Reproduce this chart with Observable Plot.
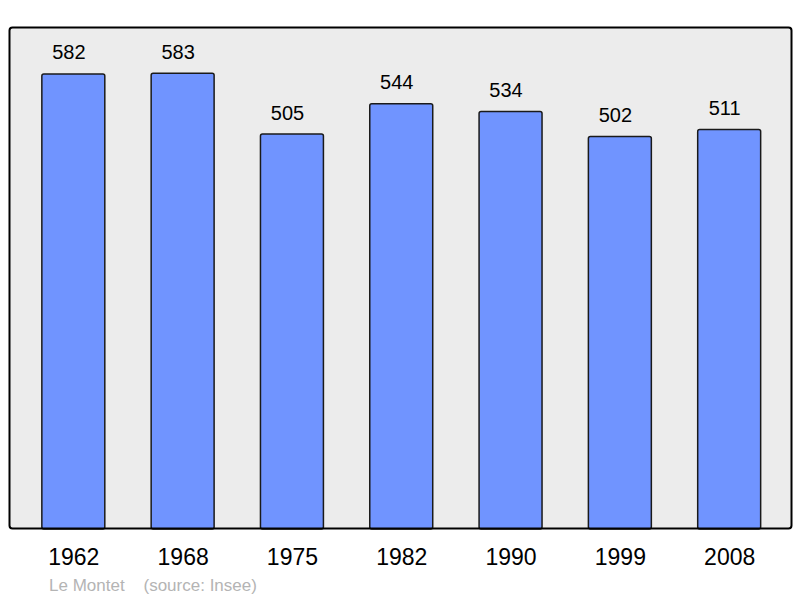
<!DOCTYPE html>
<html><head><meta charset="utf-8">
<script src="https://cdn.jsdelivr.net/npm/d3@7"></script>
<script src="https://cdn.jsdelivr.net/npm/@observablehq/plot@0.6"></script>
<style>
html,body{margin:0;padding:0;background:#fff;overflow:hidden;}
svg{display:block}
#caption{font-family:"Liberation Sans",Arial,sans-serif;font-size:17px;line-height:17px;color:#b4b4b4;margin-left:49px;white-space:pre;margin-top:1px;}
</style></head><body>
<div id="chart"></div>
<div id="caption"></div>
<script>
const years = ["1962","1968","1975","1982","1990","1999","2008"];
const population = [582,583,505,544,534,502,511];
const commune = "Le Montet";
const source = "(source: Insee)";

const data = years.map((year, i) => ({year, population: population[i]}));

const chart = Plot.plot({
  width: 800, height: 576,
  marginLeft: 9, marginRight: 9, marginTop: 27, marginBottom: 48,
  style: {fontFamily: '"Liberation Sans", Arial, sans-serif', background: "transparent", color: "#000"},
  x: {domain: years, range: [-4.5, 807], padding: 0.424, round: false},
  y: {domain: [0, 642], range: [529, 27], axis: null},
  marks: [
    Plot.frame({fill: "#ececec", rx: 3}),
    Plot.barY(data, {x: "year", y: "population", fill: "#7094ff", stroke: "#1a1a1a", strokeWidth: 1.5, rx: 2}),
    Plot.text(data, {x: "year", y: "population", text: d => String(d.population), dx: -5, dy: -15, lineAnchor: "bottom", fontSize: 20, fill: "#000"}),
    Plot.axisX({tickSize: 0, tickPadding: 20, fontSize: 23, label: null}),
    Plot.frame({stroke: "#000", strokeWidth: 2, rx: 3})
  ]
});
document.getElementById("chart").appendChild(chart);
document.getElementById("caption").textContent = commune + "    " + source;
</script>
</body></html>
